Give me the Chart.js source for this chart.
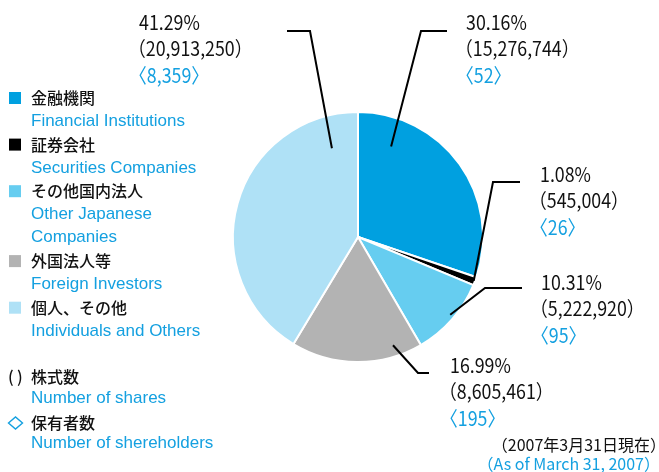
<!DOCTYPE html>
<html>
<head>
<meta charset="utf-8">
<script src="https://cdn.jsdelivr.net/npm/chart.js@4"></script>
<style>
  html, body { margin: 0; padding: 0; background: #fff; }
</style>
</head>
<body>
<canvas id="chart" width="659" height="472"></canvas>
<script>
// shareholder breakdown, clockwise from 12 o'clock
const categoriesJa = ['金融機関', '証券会社', 'その他国内法人', '外国法人等', '個人、その他'];
const categoriesEn = [['Financial Institutions'], ['Securities Companies'], ['Other Japanese', 'Companies'], ['Foreign Investors'], ['Individuals and Others']];
const percents = [30.16, 1.08, 10.31, 16.99, 41.29];
const shares = [15276744, 545004, 5222920, 8605461, 20913250];
const holders = [52, 26, 95, 195, 8359];
const colors = ['#00a0e0', '#000000', '#66cdf0', '#b3b3b3', '#afe1f6'];

const BLUE_TEXT = '#14a0e0';
const JA_FONT = '"Noto Sans CJK JP", "Noto Sans", sans-serif';
const EN_FONT = '"Liberation Sans", Arial, sans-serif';

// leader line layout: where on the slice (fraction of its sweep, fraction of radius),
// the elbow and end of the line, and the left/top of the text block
const callouts = [
  { at: 0.185, r: 0.77, elbow: [421, 31], end: [447, 31], text: [466, 22] },
  { at: 0.5, r: 0.99, elbow: [493, 182], end: [520, 182], text: [540, 174] },
  { at: 0.47, r: 0.965, elbow: [485, 288], end: [522, 288], text: [541, 282] },
  { at: 0.2, r: 0.91, elbow: [418, 373], end: [429, 373], text: [450, 365] },
  { at: 0.89, r: 0.74, elbow: [310, 31], end: [287, 31], text: [139, 22] }
];

const fmt = n => n.toLocaleString('en-US');

// draw text squeezed horizontally (narrow gothic look)
function squeezeText(ctx, text, x, y, sx) {
  ctx.save();
  ctx.translate(x, y);
  ctx.scale(sx, 1);
  ctx.fillText(text, 0, 0);
  ctx.restore();
}

const calloutPlugin = {
  id: 'callouts',
  afterDatasetsDraw(chart) {
    const ctx = chart.ctx;
    const arcs = chart.getDatasetMeta(0).data;
    ctx.save();
    ctx.lineWidth = 2;
    ctx.strokeStyle = '#000';
    ctx.textBaseline = 'middle';
    ctx.textAlign = 'left';
    callouts.forEach((c, i) => {
      const arc = arcs[i];
      const ang = arc.startAngle + (arc.endAngle - arc.startAngle) * c.at;
      const x0 = arc.x + Math.cos(ang) * arc.outerRadius * c.r;
      const y0 = arc.y + Math.sin(ang) * arc.outerRadius * c.r;
      ctx.beginPath();
      ctx.moveTo(x0, y0);
      ctx.lineTo(c.elbow[0], c.elbow[1]);
      ctx.lineTo(c.end[0], c.end[1]);
      ctx.stroke();

      const [tx, ty] = c.text;
      ctx.font = '20px ' + JA_FONT;
      ctx.fillStyle = '#111';
      squeezeText(ctx, percents[i].toFixed(2) + '%', tx, ty, 0.89);
      // full-width brackets carry blank space on their outer side
      squeezeText(ctx, '（' + fmt(shares[i]) + '）', tx - 11, ty + 26, 0.89);
      ctx.fillStyle = BLUE_TEXT;
      squeezeText(ctx, '〈' + fmt(holders[i]) + '〉', tx - 10, ty + 53, 0.89);
    });
    ctx.restore();
  }
};

const sideLegendPlugin = {
  id: 'sideLegend',
  afterDraw(chart) {
    const ctx = chart.ctx;
    const step = 23.3;
    let line = 0;
    const yAt = k => 98 + k * step;
    ctx.save();
    ctx.textBaseline = 'middle';
    ctx.textAlign = 'left';
    categoriesJa.forEach((ja, i) => {
      const y = yAt(line);
      ctx.fillStyle = colors[i];
      ctx.fillRect(9, y - 6, 12, 12);
      ctx.fillStyle = '#111';
      ctx.font = '500 16px ' + JA_FONT;
      ctx.fillText(ja, 31, y);
      line++;
      ctx.fillStyle = BLUE_TEXT;
      ctx.font = '17px ' + EN_FONT;
      categoriesEn[i].forEach(en => {
        ctx.fillText(en, 31, yAt(line));
        line++;
      });
    });

    // notes for the bracket styles
    let y = yAt(line - 1) + 46;
    ctx.fillStyle = '#111';
    ctx.font = '500 16px ' + JA_FONT;
    ctx.fillText('(', 8, y);
    ctx.fillText(')', 17, y);
    ctx.fillText('株式数', 31, y);
    ctx.fillStyle = BLUE_TEXT;
    ctx.font = '17px ' + EN_FONT;
    ctx.fillText('Number of shares', 31, y + 21);
    y += 46;
    ctx.strokeStyle = BLUE_TEXT;
    ctx.lineWidth = 1.4;
    ctx.beginPath();
    ctx.moveTo(8.5, y);
    ctx.lineTo(15.5, y - 6);
    ctx.lineTo(22.5, y);
    ctx.lineTo(15.5, y + 6);
    ctx.closePath();
    ctx.stroke();
    ctx.fillStyle = '#111';
    ctx.font = '500 16px ' + JA_FONT;
    ctx.fillText('保有者数', 31, y);
    ctx.fillStyle = BLUE_TEXT;
    ctx.font = '17px ' + EN_FONT;
    ctx.fillText('Number of shereholders', 31, y + 20);

    // as-of date
    ctx.textAlign = 'right';
    ctx.fillStyle = '#111';
    ctx.font = '16px ' + JA_FONT;
    ctx.fillText('（2007年3月31日現在）', 666, 445);
    ctx.fillStyle = BLUE_TEXT;
    ctx.fillText('（As of March 31, 2007）', 660, 464);
    ctx.restore();
  }
};

new Chart(document.getElementById('chart'), {
  type: 'pie',
  data: {
    labels: categoriesJa,
    datasets: [{
      data: percents,
      backgroundColor: colors,
      borderColor: '#fff',
      borderWidth: 2
    }]
  },
  options: {
    responsive: false,
    animation: false,
    layout: { padding: { left: 232, right: 175, top: 111, bottom: 109 } },
    plugins: {
      legend: { display: false },
      tooltip: { enabled: false }
    }
  },
  plugins: [calloutPlugin, sideLegendPlugin]
});
</script>
</body>
</html>
